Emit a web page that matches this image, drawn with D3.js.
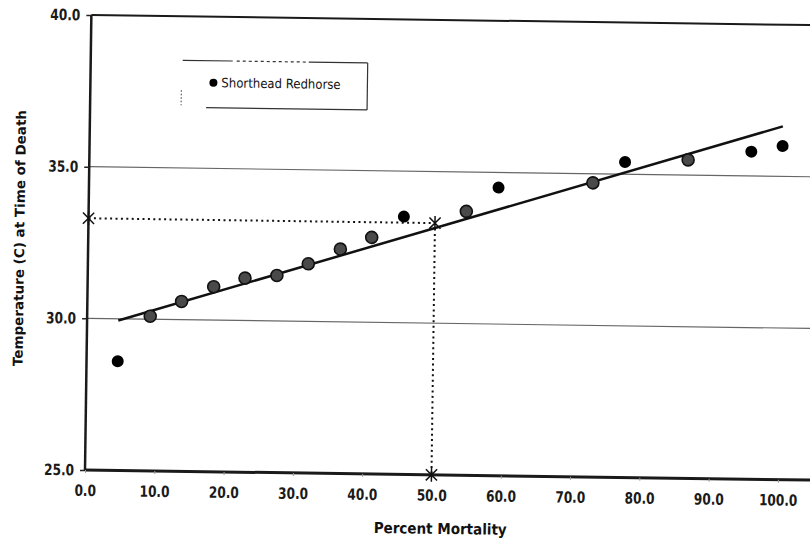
<!DOCTYPE html>
<html>
<head>
<meta charset="utf-8">
<script src="https://cdn.jsdelivr.net/npm/d3@7"></script>
<style>
  body { margin: 0; background: #fff; }
  .tick text { font-family: "DejaVu Sans Condensed", "DejaVu Sans", sans-serif; font-weight: bold; font-size: 13.5px; fill: #1a1a1a; }
  .title { font-family: "DejaVu Sans", sans-serif; font-weight: bold; font-size: 13.5px; fill: #111; }
  .legend-text { font-family: "DejaVu Sans Condensed", "DejaVu Sans", sans-serif; font-size: 13px; fill: #111; }
</style>
</head>
<body>
<div id="chart"></div>
<script>
const mortality = [4.5, 9.1, 13.6, 18.2, 22.7, 27.3, 31.8, 36.4, 40.9, 45.5, 54.5, 59.1, 72.7, 77.3, 86.4, 95.5, 100.0]
const temperature = [28.6, 30.1, 30.6, 31.1, 31.4, 31.5, 31.9, 32.4, 32.8, 33.5, 33.7, 34.5, 34.7, 35.4, 35.5, 35.8, 36.0]
const xTicks = [0, 10, 20, 30, 40, 50, 60, 70, 80, 90, 100]
const yTicks = [25, 30, 35, 40]
const gridTemps = [30, 35]
// LT50 read-off: 50% mortality -> temperature
const lt50Mortality = [50]
const lt50Temp = [33.3]
const seriesName = "Shorthead Redhorse"

const W = 810, H = 540
const svg = d3.select("#chart").append("svg")
    .attr("width", W).attr("height", H)
    .style("background", "#fff")

// the scan is tilted a little, so the whole chart is turned to match
const g = svg.append("g").attr("transform", "rotate(0.8,85,470)")

const x = d3.scaleLinear().domain([0, 100]).range([85, 778])
const y = d3.scaleLinear().domain([25, 40]).range([470, 15])
const xEnd = 106 // plot area runs past the right edge of the picture

// least squares fit for the trend line
const mx = d3.mean(mortality), my = d3.mean(temperature)
let sxy = 0, sxx = 0
mortality.forEach(function(v, i) {
    sxy += (v - mx) * (temperature[i] - my)
    sxx += (v - mx) * (v - mx)
})
const slope = sxy / sxx, icpt = my - slope * mx
const fit = v => icpt + slope * v

// gridlines
g.selectAll(".grid")
    .data(gridTemps)
    .join("line")
    .attr("class", "grid")
    .attr("x1", x(0)).attr("x2", x(xEnd))
    .attr("y1", d => y(d)).attr("y2", d => y(d))
    .attr("stroke", "#666").attr("stroke-width", 1.2)

// frame
g.append("line").attr("x1", x(0)).attr("x2", x(xEnd)).attr("y1", y(40)).attr("y2", y(40))
    .attr("stroke", "#1a1a1a").attr("stroke-width", 2)
g.append("line").attr("x1", x(0)).attr("x2", x(0)).attr("y1", y(25)).attr("y2", y(40))
    .attr("stroke", "#1a1a1a").attr("stroke-width", 2.5)
g.append("line").attr("x1", x(0)).attr("x2", x(xEnd)).attr("y1", y(25)).attr("y2", y(25))
    .attr("stroke", "#1a1a1a").attr("stroke-width", 3)

// axes (scan stretched the lettering a bit vertically)
const yAxisG = g.append("g")
    .attr("transform", `translate(${x(0)},0)`)
    .call(d3.axisLeft(y).tickValues(yTicks).tickFormat(d3.format(".1f")).tickSize(5).tickPadding(6))
yAxisG.select(".domain").remove()
yAxisG.selectAll(".tick line").attr("stroke", "#222").attr("stroke-width", 1.5)
yAxisG.selectAll(".tick text").attr("transform", "scale(1,1.15)")

const xAxisG = g.append("g")
    .attr("transform", `translate(0,${y(25)})`)
    .call(d3.axisBottom(x).tickValues(xTicks).tickFormat(d3.format(".1f")).tickSize(3).tickPadding(10))
xAxisG.select(".domain").remove()
xAxisG.selectAll(".tick line").attr("stroke", "#999").attr("stroke-width", 1)
xAxisG.selectAll(".tick text").attr("transform", "scale(1,1.15)")

// axis titles
g.append("text").attr("class", "title")
    .attr("transform", "translate(441,529) scale(1,1.12)")
    .attr("text-anchor", "middle")
    .text("Percent Mortality")
g.append("text").attr("class", "title")
    .attr("transform", "translate(21,239) rotate(-90)")
    .attr("text-anchor", "middle")
    .text("Temperature (C) at Time of Death")

// dotted read-off lines for LT50
g.append("line")
    .attr("x1", x(0)).attr("x2", x(lt50Mortality[0]))
    .attr("y1", y(lt50Temp[0])).attr("y2", y(lt50Temp[0]))
    .attr("stroke", "#111").attr("stroke-width", 2).attr("stroke-dasharray", "2,3.4")
g.append("line")
    .attr("x1", x(lt50Mortality[0])).attr("x2", x(lt50Mortality[0]))
    .attr("y1", y(lt50Temp[0])).attr("y2", y(25))
    .attr("stroke", "#111").attr("stroke-width", 2).attr("stroke-dasharray", "2,3.4")

// trend line
const ext = d3.extent(mortality)
g.append("line")
    .attr("x1", x(ext[0])).attr("y1", y(fit(ext[0])))
    .attr("x2", x(ext[1])).attr("y2", y(fit(ext[1])))
    .attr("stroke", "#111").attr("stroke-width", 2.5)

// points: the ones sitting on the fitted line came out grey in the scan
const pts = mortality.map((v, i) => ({x: v, t: temperature[i]}))
g.selectAll(".pt")
    .data(pts)
    .join("circle")
    .attr("class", "pt")
    .attr("cx", d => x(d.x))
    .attr("cy", d => y(d.t))
    .attr("r", 6)
    .attr("fill", d => Math.abs(d.t - fit(d.x)) < 0.33 ? "#4a4a4a" : "#000")
    .attr("stroke", d => Math.abs(d.t - fit(d.x)) < 0.33 ? "#111" : "none")
    .attr("stroke-width", 1.6)

// asterisk markers (X with a vertical bar)
function star(cx, cy, r) {
    const p = d3.path()
    const a = r * 0.8
    p.moveTo(cx - a, cy - a); p.lineTo(cx + a, cy + a)
    p.moveTo(cx + a, cy - a); p.lineTo(cx - a, cy + a)
    p.moveTo(cx, cy - r); p.lineTo(cx, cy + r)
    return p.toString()
}
const stars = [[0, lt50Temp[0]], [lt50Mortality[0], lt50Temp[0]], [lt50Mortality[0], 25]]
g.selectAll(".star")
    .data(stars)
    .join("path")
    .attr("class", "star")
    .attr("d", d => star(x(d[0]), y(d[1]), 7))
    .attr("stroke", "#111").attr("stroke-width", 1.5).attr("fill", "none")

// legend (box edges are partly lost in the scan)
const lg = g.append("g")
lg.append("line").attr("x1", 177).attr("x2", 362).attr("y1", 59).attr("y2", 59)
    .attr("stroke", "#333").attr("stroke-width", 1.2).attr("stroke-dasharray", "50,4,3,3,3,3,3,3,3,3,3,3,3,3,3,3,3,3,3,3,3,3,3,3,3,3,60")
lg.append("line").attr("x1", 362).attr("x2", 362).attr("y1", 59).attr("y2", 106)
    .attr("stroke", "#333").attr("stroke-width", 1.2)
lg.append("line").attr("x1", 201).attr("x2", 362).attr("y1", 106).attr("y2", 106)
    .attr("stroke", "#333").attr("stroke-width", 1.2)
lg.append("line").attr("x1", 176).attr("x2", 176).attr("y1", 89).attr("y2", 104)
    .attr("stroke", "#333").attr("stroke-width", 1).attr("stroke-dasharray", "1.5,2")
lg.append("circle").attr("cx", 208).attr("cy", 81).attr("r", 4).attr("fill", "#000")
lg.append("text").attr("class", "legend-text")
    .attr("x", 216).attr("y", 85.5)
    .text(seriesName)
</script>
</body>
</html>
